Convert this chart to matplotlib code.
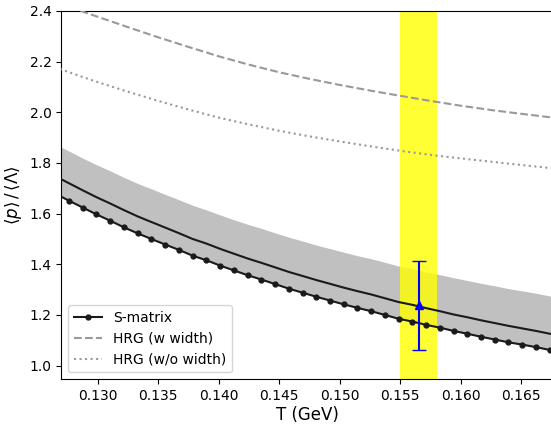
import numpy as np
import matplotlib
matplotlib.use("Agg")
import matplotlib.pyplot as plt

# grille en T (GeV) des points S-matrix
T = [0.12649, 0.12762, 0.12876, 0.12989, 0.13103, 0.13216, 0.13330, 0.13443,
     0.13557, 0.13670, 0.13784, 0.13897, 0.14011, 0.14124, 0.14238, 0.14351,
     0.14465, 0.14578, 0.14692, 0.14805, 0.14919, 0.15032, 0.15146, 0.15259,
     0.15373, 0.15486, 0.15600, 0.15713, 0.15827, 0.15940, 0.16054, 0.16167,
     0.16281, 0.16394, 0.16508, 0.16621, 0.16735, 0.16848]

smatrix = [1.679, 1.651, 1.624, 1.597, 1.572, 1.546, 1.522, 1.500, 1.478,
           1.457, 1.434, 1.416, 1.395, 1.376, 1.357, 1.340, 1.322, 1.304,
           1.288, 1.272, 1.257, 1.242, 1.228, 1.215, 1.200, 1.185, 1.174,
           1.161, 1.150, 1.137, 1.126, 1.114, 1.103, 1.092, 1.083, 1.073,
           1.062, 1.052]

central = [1.748, 1.720, 1.692, 1.665, 1.640, 1.614, 1.589, 1.567, 1.545,
           1.523, 1.500, 1.482, 1.461, 1.442, 1.423, 1.406, 1.388, 1.370,
           1.354, 1.338, 1.323, 1.308, 1.294, 1.281, 1.266, 1.251, 1.240,
           1.227, 1.215, 1.202, 1.191, 1.179, 1.168, 1.157, 1.147, 1.137,
           1.126, 1.116]

upper = [1.874, 1.847, 1.819, 1.793, 1.769, 1.743, 1.719, 1.698, 1.676,
         1.655, 1.633, 1.615, 1.595, 1.576, 1.558, 1.542, 1.524, 1.507,
         1.492, 1.476, 1.462, 1.448, 1.434, 1.422, 1.408, 1.393, 1.383,
         1.370, 1.359, 1.347, 1.336, 1.325, 1.315, 1.304, 1.295, 1.286,
         1.275, 1.266]

# courbes HRG
T_hrg = [0.126, 0.128, 0.130, 0.1325, 0.135, 0.1375, 0.140, 0.1425, 0.145,
         0.1475, 0.150, 0.1525, 0.155, 0.1575, 0.160, 0.1625, 0.165, 0.168]
hrg_w = [2.445, 2.410, 2.377, 2.336, 2.296, 2.258, 2.221, 2.188, 2.158,
         2.132, 2.108, 2.086, 2.065, 2.045, 2.026, 2.009, 1.994, 1.977]
hrg_wo = [2.186, 2.152, 2.119, 2.081, 2.045, 2.011, 1.979, 1.952, 1.927,
          1.905, 1.885, 1.866, 1.848, 1.832, 1.818, 1.805, 1.792, 1.777]

# point experimental
T_exp = 0.15652
ratio_exp = 1.238
err_exp = 0.176
T_band = (0.155, 0.158)

fig = plt.figure(figsize=(5.51, 4.26), dpi=100)
ax = fig.add_axes([0.1116, 0.1096, 0.8938, 0.8646])

ax.fill_between(T, smatrix, upper, color='silver', lw=0, zorder=1)
ax.axvspan(T_band[0], T_band[1], color='yellow', alpha=0.8, lw=0, zorder=2)

ax.plot(T, central, color='#1a1a1a', lw=1.5, zorder=3)
ax.plot(T, smatrix, color='#1a1a1a', lw=1.5, marker='o', markersize=3.5,
        label='S-matrix', zorder=3)
ax.plot(T_hrg, hrg_w, color='#999999', lw=1.5, ls='--', label='HRG (w width)', zorder=3)
ax.plot(T_hrg, hrg_wo, color='#999999', lw=1.5, ls=':', label='HRG (w/o width)', zorder=3)

ax.errorbar([T_exp], [ratio_exp], yerr=[err_exp], color='blue', marker='^',
            markersize=6, capsize=5, lw=1.5, zorder=4)

ax.set_xlim(0.12700, 0.16770)
ax.set_ylim(0.946, 2.4)
ax.set_xticks([0.130, 0.135, 0.140, 0.145, 0.150, 0.155, 0.160, 0.165])
ax.set_yticks([1.0, 1.2, 1.4, 1.6, 1.8, 2.0, 2.2, 2.4])
ax.xaxis.set_major_formatter(matplotlib.ticker.FormatStrFormatter('%.3f'))
ax.yaxis.set_major_formatter(matplotlib.ticker.FormatStrFormatter('%.1f'))
ax.set_xlabel('T (GeV)', fontsize=12, labelpad=2)
ax.set_ylabel(r'$\langle p\rangle\,/\,\langle\Lambda\rangle$', fontsize=12)

ax.legend(loc='lower left')

fig.savefig('out.png', dpi=100)
